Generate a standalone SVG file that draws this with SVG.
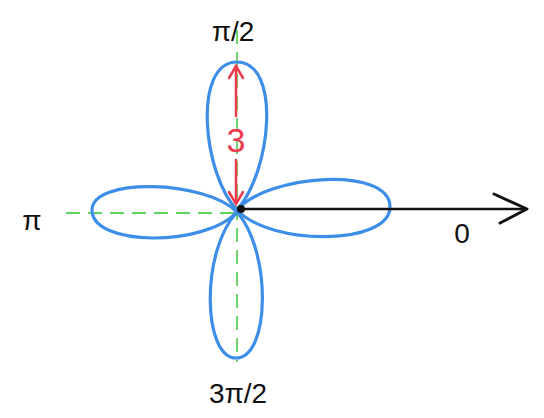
<svg xmlns="http://www.w3.org/2000/svg" width="544" height="418" viewBox="0 0 544 418">
<defs>
<style>
.petal{fill:none;stroke:#3d8ee8;stroke-width:3.2;stroke-linecap:round}
.guide{fill:none;stroke:#5fd35f;stroke-width:1.8;stroke-dasharray:14 8}
.lbl{font-family:"Liberation Sans",Arial,sans-serif;font-size:28px;fill:#111;text-anchor:middle}
.red{stroke:#ec3a4e;stroke-width:2.5;fill:none;stroke-linecap:round}
</style>
</defs>
<rect width="544" height="418" fill="#fff"/>
<g id="guides">
<line class="guide" x1="237" y1="30" x2="237" y2="362"/>
<line class="guide" x1="66" y1="213" x2="237" y2="213"/>
</g>
<g id="petals">
<path id="petal-top" class="petal" d="M237,210 C203,175 192,62 237,62 C281,62 272,170 237,210"/>
<path id="petal-right" class="petal" d="M237,210 C268,174 390,166 390,207 C390,245 272,247 237,210"/>
<path id="petal-left" class="petal" d="M237,212 C205,180 92,177 92,210 C92,247 205,247 237,212"/>
<path id="petal-bottom" class="petal" d="M237,212 C200,252 203,358 236,358 C270,358 272,252 237,212"/>
</g>
<g id="connectors">
<line x1="237" y1="209" x2="526" y2="209" stroke="#111" stroke-width="2.5"/>
<path d="M494,194 L527,209 L500,223" fill="none" stroke="#111" stroke-width="3" stroke-linecap="round" stroke-linejoin="round"/>
<line class="red" x1="236" y1="66" x2="236" y2="116"/>
<line class="red" x1="236" y1="160" x2="236" y2="203"/>
<path class="red" d="M229,78 L236,66 L243,78"/>
<path class="red" d="M229,192 L236,204 L243,192"/>
</g>
<circle id="origin" cx="241" cy="209" r="4" fill="#111"/>
<text x="236" y="152" font-family="Liberation Sans,Arial,sans-serif" font-size="34" fill="#ec3a4e" text-anchor="middle">3</text>
<g id="label-top"><text class="lbl" x="233" y="41">π/2</text></g>
<g id="label-bottom"><text class="lbl" x="238" y="403">3π/2</text></g>
<g id="label-left"><text class="lbl" x="32" y="230">π</text></g>
<g id="label-right"><text class="lbl" x="462" y="243">0</text></g>
</svg>
